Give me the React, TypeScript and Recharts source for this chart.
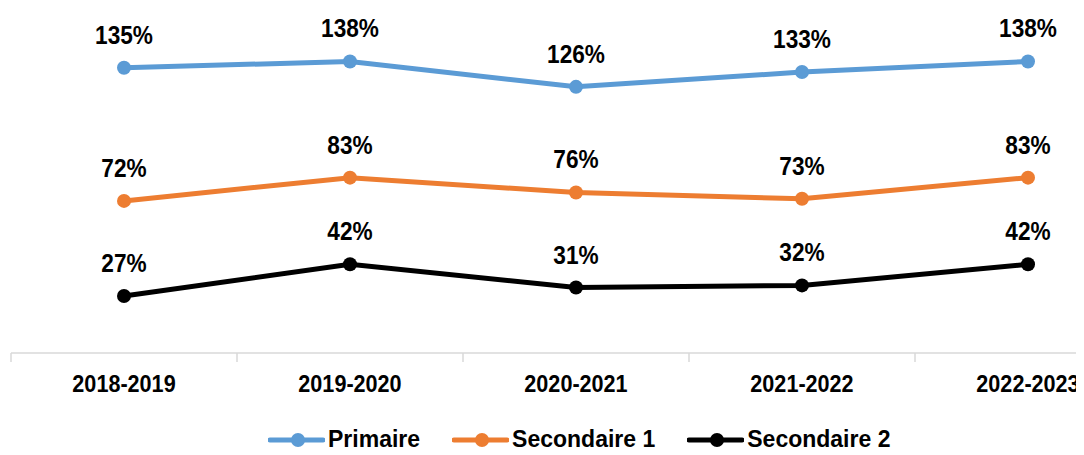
import { LineChart, Line, XAxis, YAxis, Legend } from "recharts";

const years = ["2018-2019", "2019-2020", "2020-2021", "2021-2022", "2022-2023"];
const primaire = [135, 138, 126, 133, 138];
const secondaire1 = [72, 83, 76, 73, 83];
const secondaire2 = [27, 42, 31, 32, 42];
// category boundaries (Excel puts the axis ticks between categories)
const boundaryTicks = [-0.5, 0.5, 1.5, 2.5, 3.5, 4.5];

const series = [
  { key: "primaire", name: "Primaire", color: "#5B9BD5" },
  { key: "secondaire1", name: "Secondaire 1", color: "#ED7D31" },
  { key: "secondaire2", name: "Secondaire 2", color: "#000000" },
];

const data = years.map((year, i) => ({
  year,
  primaire: primaire[i],
  secondaire1: secondaire1[i],
  secondaire2: secondaire2[i],
}));

const FONT = '"Liberation Sans", Arial, sans-serif';

// narrow-ish bold text, like the Arial Narrow in the original
function squeeze(x: number, k: number) {
  return `translate(${x} 0) scale(${k} 1) translate(${-x} 0)`;
}

function YearTick(props: any) {
  const { x, y, payload } = props;
  return (
    <text
      x={x}
      y={y + 17}
      textAnchor="middle"
      fontSize={24}
      fontWeight={700}
      fill="#000"
      fontFamily={FONT}
      transform={squeeze(x, 0.9)}
    >
      {payload.value}
    </text>
  );
}

function PctLabel(props: any) {
  const { x, y, value } = props;
  return (
    <text
      x={x}
      y={y - 24}
      textAnchor="middle"
      fontSize={26}
      fontWeight={700}
      fill="#000"
      fontFamily={FONT}
      transform={squeeze(x, 0.87)}
    >
      {`${value}%`}
    </text>
  );
}

function LegendContent() {
  return (
    <div style={{ display: "flex", alignItems: "center", fontFamily: FONT }}>
      {series.map((s) => (
        <div key={s.key} style={{ display: "flex", alignItems: "center", marginRight: 32 }}>
          <svg width={57} height={16}>
            <line x1={2} y1={8} x2={55} y2={8} stroke={s.color} strokeWidth={5} strokeLinecap="round" />
            <circle cx={30} cy={8} r={7} fill={s.color} />
          </svg>
          <span style={{ marginLeft: 3, fontSize: 23, fontWeight: 700, color: "#000" }}>{s.name}</span>
        </div>
      ))}
    </div>
  );
}

export default function App() {
  return (
    <div
      style={{
        marginLeft: -8,
        marginTop: -8,
        width: 1084,
        height: 455,
        overflow: "hidden",
        position: "relative",
        fontFamily: FONT,
      }}
    >
      <LineChart
        width={1152}
        height={455}
        data={data}
        margin={{ top: 15, right: 11, left: 11, bottom: 52 }}
      >
        <XAxis
          xAxisId={0}
          type="number"
          dataKey={(d: any) => years.indexOf(d.year)}
          domain={[-0.5, 4.5]}
          ticks={boundaryTicks}
          allowDataOverflow
          height={10}
          axisLine={{ stroke: "#D9D9D9", strokeWidth: 1.5 }}
          tickLine={{ stroke: "#D9D9D9", strokeWidth: 1.5 }}
          tickSize={9}
          tickFormatter={() => ""}
        />
        <XAxis
          xAxisId={1}
          dataKey="year"
          height={40}
          axisLine={false}
          tickLine={false}
          tickSize={0}
          tickMargin={12}
          interval={0}
          padding={{ left: 113, right: 113 }}
          tick={<YearTick />}
        />
        <YAxis hide domain={[0, 160]} />
        <Legend
          verticalAlign="middle"
          layout="horizontal"
          content={<LegendContent />}
          wrapperStyle={{ left: 268, top: 426, width: 800, height: 24 }}
        />
        {series.map((s) => (
          <Line
            key={s.key}
            xAxisId={1}
            dataKey={s.key}
            name={s.name}
            stroke={s.color}
            strokeWidth={5}
            dot={{ r: 7, fill: s.color, stroke: s.color, strokeWidth: 0 }}
            activeDot={false}
            isAnimationActive={false}
            label={<PctLabel />}
          />
        ))}
      </LineChart>
    </div>
  );
}
